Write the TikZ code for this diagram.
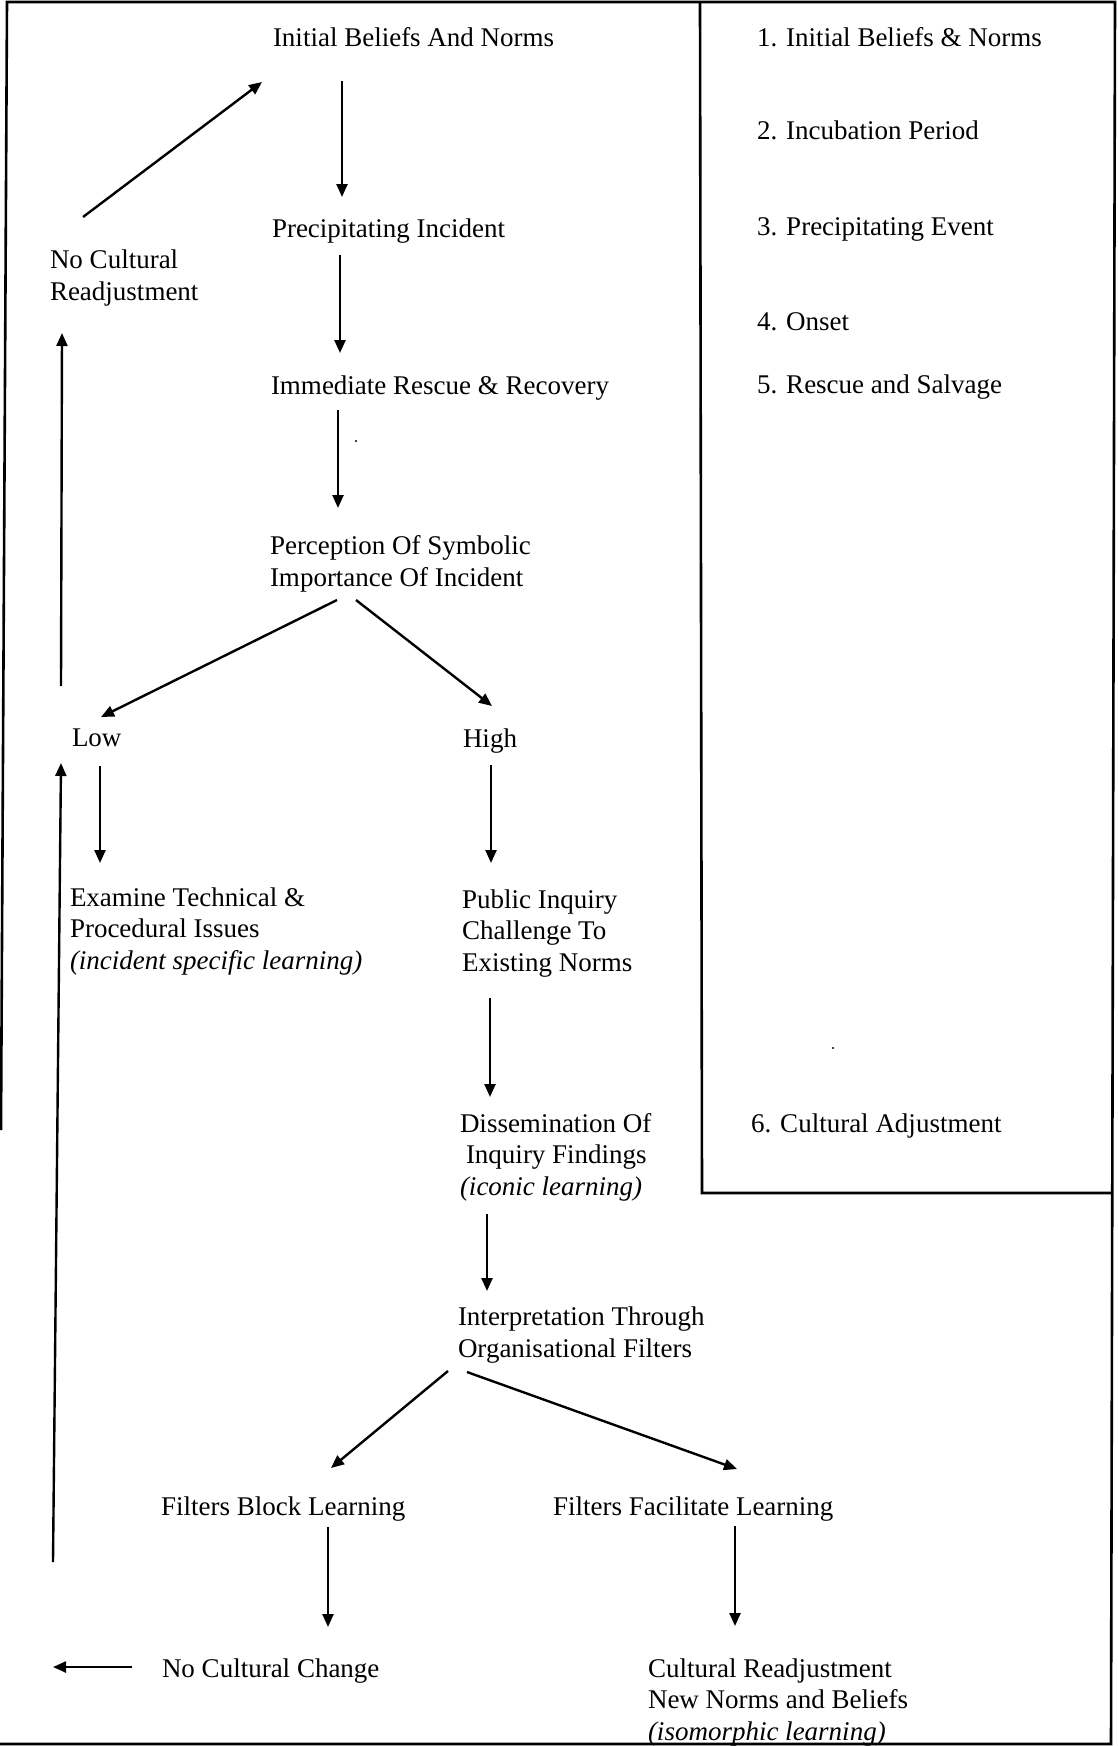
\documentclass[tikz,border=0pt]{standalone}
\usepackage{fontspec}
\setmainfont{Liberation Serif}
\usetikzlibrary{arrows.meta}

\newcommand{\labelsize}{\fontsize{27pt}{31.5pt}\selectfont}

\begin{document}
\begin{tikzpicture}[x=1pt, y=-1pt,
  lbl/.style={anchor=base west, inner sep=0pt, outer sep=0pt, align=left, font=\labelsize},
  flow/.style={line width=2.4pt, -{Triangle[length=13pt,width=11pt]}},
  frame/.style={line width=2.6pt},
  speck/.style={fill=black, draw=none}]

\useasboundingbox (0,0) rectangle (1117,1746);
\fill[white] (0,0) rectangle (1117,1746);

% outer frame and stage panel
\draw[frame] (1,1130) -- (7,2) -- (1115,2) -- (1111,1744) -- (0,1744);
\draw[frame] (700,2) -- (702,1193) -- (1111,1193);

% main sequence (multi-line labels are placed by the baseline of their last line)
\node[lbl] (ibn)  at (273,46)   {Initial Beliefs And Norms};
\node[lbl] (pi)   at (272,237)  {Precipitating Incident};
\node[lbl] (irr)  at (271,394)  {Immediate Rescue \& Recovery};
\node[lbl] (pos)  at (270,586)  {Perception Of Symbolic\\Importance Of Incident};
\node[lbl] (ncr)  at (50,300)   {No Cultural\\Readjustment};
\node[lbl] (low)  at (72,746)   {Low};
\node[lbl] (high) at (463,747)  {High};
\node[lbl] (etp)  at (70,969)   {Examine Technical \&\\Procedural Issues\\\textit{(incident specific learning)}};
\node[lbl] (pic)  at (462,971)  {Public Inquiry\\Challenge To\\Existing Norms};
\node[lbl] (dif)  at (460,1195) {Dissemination Of\\\hspace*{6pt}Inquiry Findings\\\textit{(iconic learning)}};
\node[lbl] (itf)  at (458,1357) {Interpretation Through\\Organisational Filters};
\node[lbl] (fbl)  at (161,1515) {Filters Block Learning};
\node[lbl] (ffl)  at (553,1515) {Filters Facilitate Learning};
\node[lbl] (ncc)  at (162,1677) {No Cultural Change};
\node[lbl] (crn)  at (648,1740) {Cultural Readjustment\\New Norms and Beliefs\\\textit{(isomorphic learning)}};

% stages
\node[lbl] (s1) at (757,46)   {1. Initial Beliefs \& Norms};
\node[lbl] (s2) at (757,139)  {2. Incubation Period};
\node[lbl] (s3) at (757,235)  {3. Precipitating Event};
\node[lbl] (s4) at (757,330)  {4. Onset};
\node[lbl] (s5) at (757,393)  {5. Rescue and Salvage};
\node[lbl] (s6) at (751,1132) {6. Cultural Adjustment};

% connector end points
\coordinate (a1s) at (342,81);   \coordinate (a1e) at (342,197);
\coordinate (a2s) at (340,255);  \coordinate (a2e) at (340,353);
\coordinate (a3s) at (338,410);  \coordinate (a3e) at (338,508);
\coordinate (a4s) at (337,600);  \coordinate (a4e) at (101,717);
\coordinate (a5s) at (356,600);  \coordinate (a5e) at (492,706);
\coordinate (a6s) at (61,686);   \coordinate (a6e) at (62,333);
\coordinate (a7s) at (83,217);   \coordinate (a7e) at (262,82);
\coordinate (a8s) at (100,766);  \coordinate (a8e) at (100,863);
\coordinate (a9s) at (491,765);  \coordinate (a9e) at (491,863);
\coordinate (b1s) at (490,998);  \coordinate (b1e) at (490,1097);
\coordinate (b2s) at (487,1214); \coordinate (b2e) at (487,1291);
\coordinate (b3s) at (448,1371); \coordinate (b3e) at (331,1468);
\coordinate (b4s) at (467,1372); \coordinate (b4e) at (737,1469);
\coordinate (b5s) at (328,1527); \coordinate (b5e) at (328,1627);
\coordinate (b6s) at (735,1526); \coordinate (b6e) at (735,1626);
\coordinate (b7s) at (132,1667); \coordinate (b7e) at (53,1667);
\coordinate (b8s) at (53,1562);  \coordinate (b8e) at (61,763);

\draw[flow] (a1s) -- (a1e);
\draw[flow] (a2s) -- (a2e);
\draw[flow] (a3s) -- (a3e);
\draw[flow] (a4s) -- (a4e);
\draw[flow] (a5s) -- (a5e);
\draw[flow] (a6s) -- (a6e);
\draw[flow] (a7s) -- (a7e);
\draw[flow] (a8s) -- (a8e);
\draw[flow] (a9s) -- (a9e);
\draw[flow] (b1s) -- (b1e);
\draw[flow] (b2s) -- (b2e);
\draw[flow] (b3s) -- (b3e);
\draw[flow] (b4s) -- (b4e);
\draw[flow] (b5s) -- (b5e);
\draw[flow] (b6s) -- (b6e);
\draw[flow] (b7s) -- (b7e);
\draw[flow] (b8s) -- (b8e);

% stray specks
\fill[speck] (356,441) circle (1.2);
\fill[speck] (833,1048) circle (1.2);

\end{tikzpicture}
\end{document}
